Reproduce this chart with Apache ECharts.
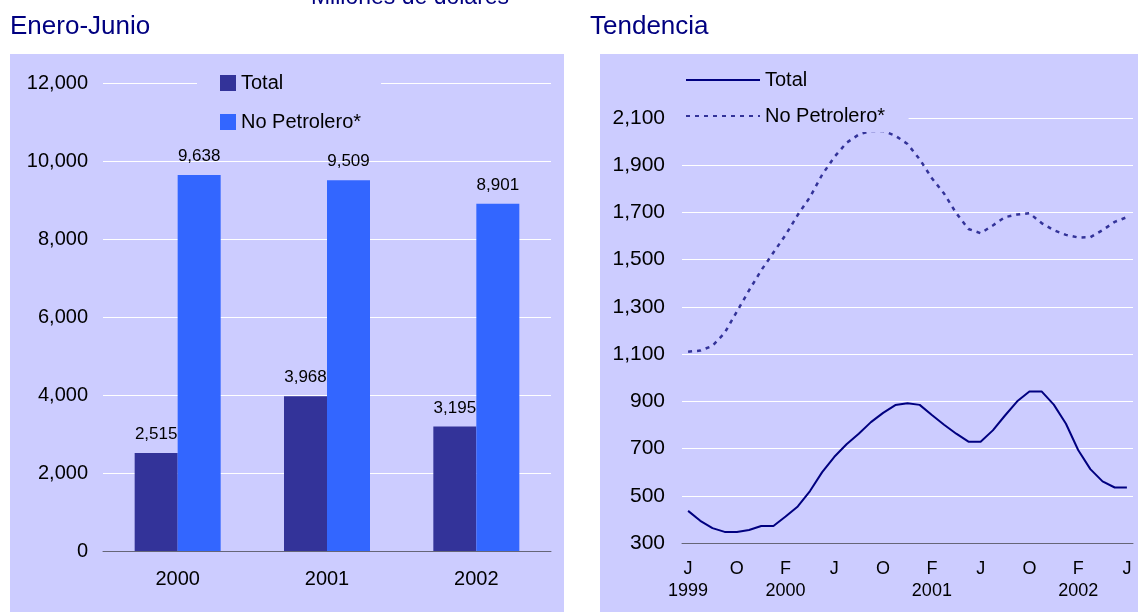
<!DOCTYPE html>
<html>
<head>
<meta charset="utf-8">
<script src="https://cdn.jsdelivr.net/npm/echarts@6/dist/echarts.min.js"></script>
<style>
  html, body { margin: 0; padding: 0; background: #fff; }
  #main { width: 1138px; height: 612px; }
</style>
</head>
<body>
<div id="main"></div>
<script>
// datos: Enero-Junio, millones de dolares
var years = ['2000', '2001', '2002'];
var totalJun = [2515, 3968, 3195];
var noPetJun = [9638, 9509, 8901];

// tendencia mensual, jun 1999 - jun 2002
var months = [
    'J\n1999', 'J', 'A', 'S', 'O', 'N', 'D', 'E',
    'F\n2000', 'M', 'A', 'M', 'J', 'J', 'A', 'S', 'O', 'N', 'D', 'E',
    'F\n2001', 'M', 'A', 'M', 'J', 'J', 'A', 'S', 'O', 'N', 'D', 'E',
    'F\n2002', 'M', 'A', 'M', 'J'
];
var totalTrend = [
    436, 394, 363, 347, 347, 355, 372, 372,
    412, 455, 520, 600, 665, 718, 763, 812, 851, 884, 892, 885, 842,
    801, 763, 729, 729, 777, 840, 900, 942, 942, 886, 805,
    694, 613, 561, 535, 535
];
var noPetTrend = [
    1110, 1115, 1135, 1190, 1280, 1370, 1455, 1530,
    1605, 1690, 1765, 1860, 1935, 1995, 2030, 2045, 2045, 2025, 1990, 1925, 1845,
    1780, 1697, 1630, 1612, 1645, 1680, 1691, 1697, 1655, 1625, 1605,
    1594, 1595, 1625, 1660, 1680
];

var bg = '#ccccff';
var font = 'Liberation Sans, Arial, sans-serif';

function fmt(v) {
    return Number(v).toLocaleString('en-US');
}

var myChart = echarts.init(document.getElementById('main'));

var option = {
    backgroundColor: '#fff',
    animation: false,
    textStyle: { fontFamily: font },
    graphic: [
        { type: 'rect', z: -10, shape: { x: 10, y: 54, width: 554, height: 560 }, style: { fill: bg } },
        { type: 'rect', z: -10, shape: { x: 600, y: 54, width: 540, height: 560 }, style: { fill: bg } },
        { type: 'text', left: 10, top: 14, style: { text: 'Enero-Junio', fill: '#000080', font: '26px ' + font } },
        { type: 'text', left: 590, top: 14, style: { text: 'Tendencia', fill: '#000080', font: '26px ' + font } },
        { type: 'text', x: 410, y: -2, style: { text: 'Millones de dólares', fill: '#000080', font: '23px ' + font, align: 'center', verticalAlign: 'middle' } }
    ],
    legend: [
        {
            data: ['Total', 'No Petrolero*'],
            orient: 'vertical',
            left: 197,
            top: 67,
            padding: [6, 20, 6, 23],
            backgroundColor: bg,
            itemWidth: 16,
            itemHeight: 16,
            itemGap: 19,
            icon: 'rect',
            textStyle: { fontSize: 20, lineHeight: 20, color: '#000', fontFamily: font }
        },
        {
            data: ['Total ', 'No Petrolero* '],
            orient: 'vertical',
            left: 682,
            top: 64,
            padding: [6, 18, 6, 3],
            backgroundColor: bg,
            itemWidth: 74,
            itemHeight: 10,
            itemGap: 16,
            itemStyle: { opacity: 0 },
            textStyle: { fontSize: 20, lineHeight: 20, color: '#000', fontFamily: font }
        }
    ],
    grid: [
        { left: 103, right: 587, top: 83, bottom: 61 },
        { left: 682, right: 5, top: 118, bottom: 69 }
    ],
    xAxis: [
        {
            gridIndex: 0,
            type: 'category',
            data: years,
            axisLine: { lineStyle: { color: '#666677', width: 1 } },
            axisTick: { length: 5, lineStyle: { color: '#333' } },
            axisLabel: { fontSize: 20, color: '#000', margin: 18 }
        },
        {
            gridIndex: 1,
            type: 'category',
            data: months,
            axisLine: { lineStyle: { color: '#666677', width: 1 } },
            axisTick: { length: 4, interval: 0, lineStyle: { color: '#333' } },
            axisLabel: { fontSize: 18, lineHeight: 22, color: '#000', margin: 15, interval: 3 }
        }
    ],
    yAxis: [
        {
            gridIndex: 0,
            type: 'value',
            min: 0,
            max: 12000,
            interval: 2000,
            axisLine: { show: false },
            axisTick: { show: false },
            splitLine: { lineStyle: { color: '#fff', width: 1 } },
            axisLabel: { fontSize: 20, color: '#000', margin: 15, formatter: fmt }
        },
        {
            gridIndex: 1,
            type: 'value',
            min: 300,
            max: 2100,
            interval: 200,
            axisLine: { show: false },
            axisTick: { show: false },
            splitLine: { lineStyle: { color: '#fff', width: 1 } },
            axisLabel: { fontSize: 21, color: '#000', margin: 17, formatter: fmt }
        }
    ],
    series: [
        {
            name: 'Total',
            type: 'bar',
            xAxisIndex: 0,
            yAxisIndex: 0,
            barWidth: 43,
            barGap: '0%',
            itemStyle: { color: '#333399' },
            label: { show: true, position: 'top', distance: 10, fontSize: 17, color: '#000', formatter: function (p) { return fmt(p.value); } },
            data: totalJun
        },
        {
            name: 'No Petrolero*',
            type: 'bar',
            xAxisIndex: 0,
            yAxisIndex: 0,
            barWidth: 43,
            barGap: '0%',
            itemStyle: { color: '#3366ff' },
            label: { show: true, position: 'top', distance: 10, fontSize: 17, color: '#000', formatter: function (p) { return fmt(p.value); } },
            data: noPetJun
        },
        {
            name: 'Total ',
            type: 'line',
            xAxisIndex: 1,
            yAxisIndex: 1,
            symbol: 'none',
            lineStyle: { color: '#000080', width: 2 },
            itemStyle: { color: '#000080' },
            data: totalTrend
        },
        {
            name: 'No Petrolero* ',
            type: 'line',
            xAxisIndex: 1,
            yAxisIndex: 1,
            symbol: 'none',
            lineStyle: { color: '#333399', width: 2.5, type: [4, 5] },
            itemStyle: { color: '#333399' },
            data: noPetTrend
        }
    ]
};

myChart.setOption(option);
</script>
</body>
</html>
